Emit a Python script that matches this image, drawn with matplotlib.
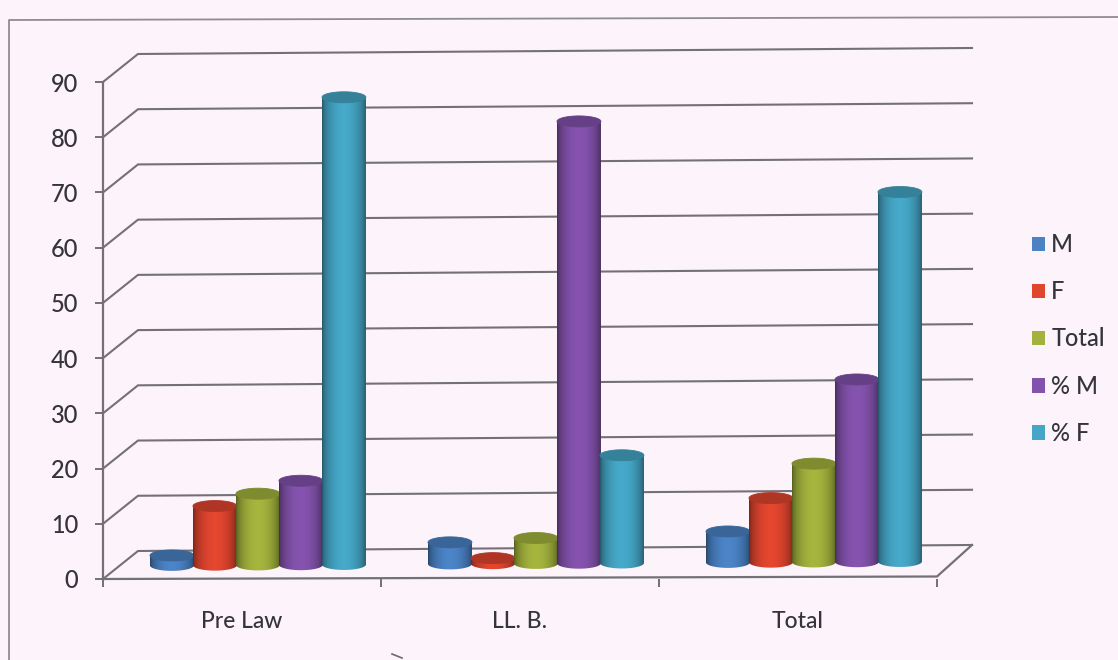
import numpy as np
import matplotlib
matplotlib.use('Agg')
import matplotlib.pyplot as plt
from matplotlib.lines import Line2D
from matplotlib.patches import Patch, PathPatch
from matplotlib.path import Path

categories = ['Pre Law', 'LL. B.', 'Total']
series = ['M', 'F', 'Total', '% M', '% F']
m_vals = [1.8, 3.9, 5.6]
f_vals = [10.7, 1.0, 11.6]
total_vals = [12.9, 4.6, 17.8]
pct_m_vals = [15.2, 80.0, 33.0]
pct_f_vals = [84.6, 19.5, 66.9]
y_ticks = [0, 10, 20, 30, 40, 50, 60, 70, 80, 90]
colors = ['#4a82c4', '#e0452e', '#a2b23c', '#8352ac', '#45a6c6']

BG = '#fdf3fb'
LINE = '#737176'
TEXT = '#35333b'
W, H = 1118, 660
X0, X1, Y0, Y1 = 103, 937, 579, 82

DX = 35 / 278       # depth of the box in category units
DY = 28 / 5.52      # depth of the box in value units
BACK_TILT = 6 / 5.52
FRONT_TILT = 2.5 / 5.52
BAR_STEP = 43 / 278
BAR_RX = 22 / 278
BAR_RY = 5.5 / 5.52

plt.rcParams['font.family'] = ['Lato', 'DejaVu Sans']

fig = plt.figure(figsize=(W / 100, H / 100), dpi=100, facecolor=BG)
ax = fig.add_axes([X0 / W, 1 - Y0 / H, (X1 - X0) / W, (Y0 - Y1) / H])
ax.patch.set_alpha(0)
ax.set_xlim(0, 3)
ax.set_ylim(0, 90)


def shade(color):
    rgb = np.array(matplotlib.colors.to_rgb(color))
    t = np.linspace(0, 1, 64)
    light = 0.52 + 0.50 * np.sin(np.pi * t) ** 0.55
    col = np.clip(rgb[None, :] * light[:, None], 0, 1)
    return col[None, :, :]


def cylinder(x, value, color, z):
    base = 2.4 + 0.27 * x
    top = base + value
    t = np.linspace(np.pi, 2 * np.pi, 40)
    px = x + BAR_RX * np.cos(t)
    low = base + BAR_RY * np.sin(t)
    body_x = np.r_[px, x + BAR_RX, x - BAR_RX, px[0]]
    body_y = np.r_[low, top, top, low[0]]
    body = PathPatch(Path(np.c_[body_x, body_y]), transform=ax.transData,
                     fc='none', ec='none', zorder=z)
    ax.add_patch(body)
    im = ax.imshow(shade(color), extent=[x - BAR_RX, x + BAR_RX, base - 2, top],
                   aspect='auto', origin='lower', zorder=z, interpolation='bilinear')
    im.set_clip_path(body)
    t = np.linspace(0, 2 * np.pi, 60)
    cap = np.c_[x + BAR_RX * np.cos(t), top + BAR_RY * np.sin(t)]
    dark = np.array(matplotlib.colors.to_rgb(color)) * 0.78
    ax.add_patch(PathPatch(Path(cap), fc=dark, ec=dark, lw=0.6, zorder=z + 0.1))


# back wall and left wall
for v in y_ticks:
    ax.plot([0, DX, 3 + DX], [v, v + DY, v + DY + BACK_TILT], color=LINE, lw=1.5,
            clip_on=False, zorder=1, solid_joinstyle='miter')
# floor front edge and right edge
ax.plot([0, 3, 3 + DX], [0, FRONT_TILT, DY + BACK_TILT], color=LINE, lw=1.6,
        clip_on=False, zorder=1.5)

values = [m_vals, f_vals, total_vals, pct_m_vals, pct_f_vals]
for c in range(len(categories)):
    for s in range(len(series)):
        x = c + 0.248 + s * BAR_STEP
        cylinder(x, values[s][c], colors[s], 2 + c + s * 0.2)
ax.set_xlim(0, 3)
ax.set_ylim(0, 90)

for side in ['top', 'right', 'bottom']:
    ax.spines[side].set_visible(False)
ax.spines['left'].set_color(LINE)
ax.spines['left'].set_linewidth(1.6)
ax.set_yticks(y_ticks)
ax.set_xticks([0, 1, 2, 3])
ax.set_xticklabels([])
ax.set_xticks([0.5, 1.5, 2.5], labels=categories, minor=True)
ax.tick_params(axis='y', length=6, width=1.4, color=LINE, labelsize=17,
               labelcolor=TEXT, pad=12)
ax.tick_params(axis='x', which='major', length=6, width=1.4, color=LINE)
ax.tick_params(axis='x', which='minor', length=0, labelsize=16.5, labelcolor=TEXT, pad=23)
for lab in ax.get_yticklabels() + ax.get_xticklabels(minor=True):
    lab.set_fontweight('medium')

handles = [Patch(fc=c, ec='none') for c in colors]
leg = fig.legend(handles, series, loc='center left', bbox_to_anchor=(1032 / W, 1 - 339 / H),
                 frameon=False, fontsize=17, labelcolor=TEXT, handlelength=0.57,
                 handleheight=0.57, handletextpad=0.25, labelspacing=1.02, borderpad=0,
                 borderaxespad=0)
for lab in leg.get_texts():
    lab.set_fontweight('medium')

# frame of the scanned page
fig.add_artist(Line2D([9 / W, 9 / W, 1], [0, 1 - 20 / H, 1 - 17 / H], color='#8f8b92', lw=1.3))
fig.add_artist(Line2D([392 / W, 402 / W], [1 - 654 / H, 1 - 658 / H], color='#6b6870', lw=1.2))

fig.savefig('out.png', dpi=100, facecolor=BG)
